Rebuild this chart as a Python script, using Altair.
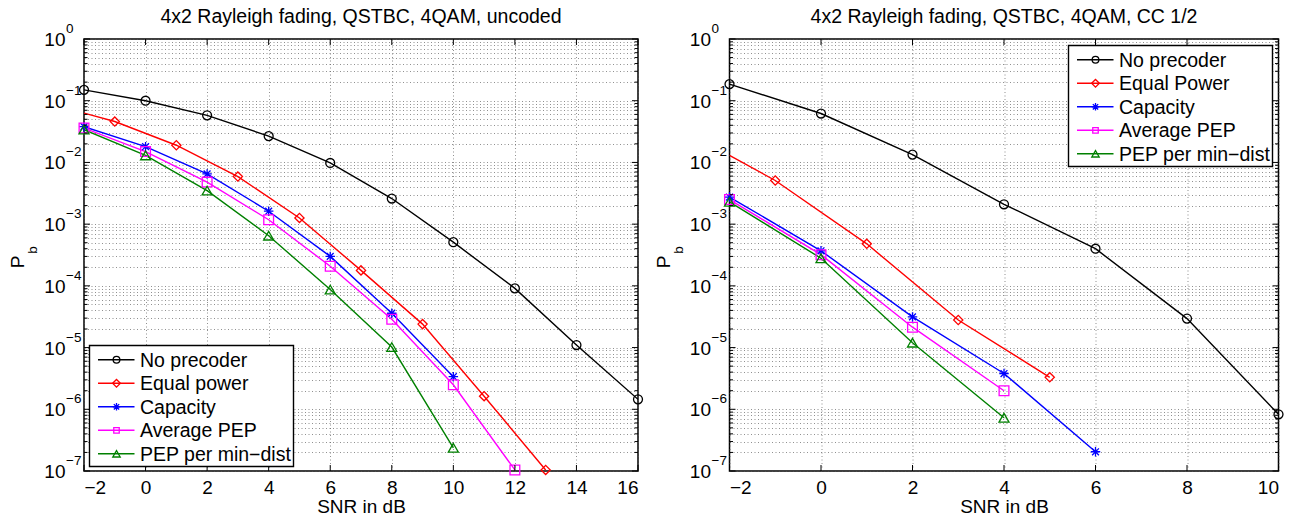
import altair as alt
import pandas as pd

FONT = "Liberation Sans"

# ---------------- uncoded panel ----------------
TITLE_L = "4x2 Rayleigh fading, QSTBC, 4QAM, uncoded"
NAMES_L = ["No precoder", "Equal power", "Capacity", "Average PEP", "PEP per min\u2212dist"]

L_NOPRE_SNR = [-2, 0, 2, 4, 6, 8, 10, 12, 14, 16]
L_NOPRE_PB = [0.15, 0.10, 0.058, 0.0267, 0.0098, 0.0026, 5.1e-4, 9.1e-5, 1.1e-5, 1.45e-6]

L_EQ_SNR = [-2, -1, 1, 3, 5, 7, 9, 11, 13]
L_EQ_PB = [0.063, 0.046, 0.019, 0.0059, 1.26e-3, 1.78e-4, 2.4e-5, 1.63e-6, 1.04e-7]
L_EQ_MARK = [False, True, True, True, True, True, True, True, True]

L_CAP_SNR = [-2, 0, 2, 4, 6, 8, 10]
L_CAP_PB = [0.038, 0.018, 0.0065, 1.62e-3, 3.0e-4, 3.6e-5, 3.37e-6]

L_AVG_SNR = [-2, 0, 2, 4, 6, 8, 10, 12]
L_AVG_PB = [0.036, 0.015, 0.0048, 1.18e-3, 2.08e-4, 2.88e-5, 2.5e-6, 1.04e-7]

L_MIN_SNR = [-2, 0, 2, 4, 6, 8, 10]
L_MIN_PB = [0.034, 0.013, 0.0035, 6.5e-4, 8.7e-5, 1.02e-5, 2.38e-7]

# ---------------- CC 1/2 panel ----------------
TITLE_R = "4x2 Rayleigh fading, QSTBC, 4QAM, CC 1/2"
NAMES_R = ["No precoder", "Equal Power", "Capacity", "Average PEP", "PEP per min\u2212dist"]

R_NOPRE_SNR = [-2, 0, 2, 4, 6, 8, 10]
R_NOPRE_PB = [0.186, 0.062, 0.0134, 0.0021, 4.0e-4, 2.95e-5, 8.3e-7]

R_EQ_SNR = [-2, -1, 1, 3, 5]
R_EQ_PB = [0.013, 0.0051, 4.8e-4, 2.8e-5, 3.3e-6]
R_EQ_MARK = [False, True, True, True, True]

R_CAP_SNR = [-2, 0, 2, 4, 6]
R_CAP_PB = [2.75e-3, 3.7e-4, 3.14e-5, 3.8e-6, 2.05e-7]

R_AVG_SNR = [-2, 0, 2, 4]
R_AVG_PB = [2.5e-3, 3.2e-4, 2.14e-5, 2.0e-6]

R_MIN_SNR = [-2, 0, 2, 4]
R_MIN_PB = [2.3e-3, 2.8e-4, 1.2e-5, 7.3e-7]

# ---------------- styling ----------------
COLORS = ["#000000", "#ff0000", "#0000ff", "#ff00ff", "#008000"]
ASTERISK = "M-1,0L1,0M0,-1L0,1M-0.72,-0.72L0.72,0.72M-0.72,0.72L0.72,-0.72"
SHAPES = ["circle", "diamond", ASTERISK, "square", "triangle-up"]
SIZES = [80, 100, 85, 45, 86]
LEG_SIZES = [45, 60, 55, 30, 55]

DECADES = [1e0, 1e-1, 1e-2, 1e-3, 1e-4, 1e-5, 1e-6, 1e-7]
EXPONENTS = ["0", "\u22121", "\u22122", "\u22123", "\u22124", "\u22125", "\u22126", "\u22127"]
MINOR = [m * 10.0 ** k for k in range(-7, 0) for m in range(2, 10)]
GRID_Y = DECADES + MINOR

HEIGHT = 432
FS = 19


def series_frame(names, series):
    rows = []
    for name, (snr, pb, marks) in zip(names, series):
        if marks is None:
            marks = [True] * len(snr)
        for s, p, m in zip(snr, pb, marks):
            rows.append({"series": name, "snr": s, "pb": p, "marked": m})
    return pd.DataFrame(rows)


def panel(title, names, series, xmax, width, legend_xy):
    xticks = list(range(-2, xmax + 1, 2))
    xscale = alt.Scale(domain=[-2, xmax], nice=False, zero=False)
    yscale = alt.Scale(type="log", domain=[1e-7, 1], nice=False)
    xaxis = alt.Axis(values=xticks, grid=True, ticks=False, tickSize=0, domain=False,
                     title="SNR in dB", labelFontSize=FS, titleFontSize=FS,
                     labelPadding=7, titlePadding=0, format="d")
    yaxis = alt.Axis(values=GRID_Y, grid=True, labels=False, ticks=False, tickSize=0,
                     domain=False, title=None)

    def X(field):
        return alt.X(f"{field}:Q", scale=xscale, axis=xaxis)

    def Y(field):
        return alt.Y(f"{field}:Q", scale=yscale, axis=yaxis)

    df = series_frame(names, series)
    color = alt.Color("series:N", scale=alt.Scale(domain=names, range=COLORS), legend=None)

    lines = alt.Chart(df).mark_line(strokeWidth=1.4, clip=True).encode(
        x=X("snr"), y=Y("pb"), color=color, detail="series:N")
    points = alt.Chart(df[df["marked"]]).mark_point(
        filled=False, strokeWidth=1.3, opacity=1).encode(
        x=X("snr"), y=Y("pb"), color=color,
        shape=alt.Shape("series:N", scale=alt.Scale(domain=names, range=SHAPES), legend=None),
        size=alt.Size("series:N", scale=alt.Scale(domain=names, range=SIZES), legend=None))

    # inward tick marks on all four sides of the box
    maj = pd.DataFrame({"v": DECADES})
    mnr = pd.DataFrame({"v": MINOR})
    xt = pd.DataFrame({"v": xticks})
    tick_layers = []
    for d, ln in ((maj, 6), (mnr, 3.5)):
        tick_layers.append(alt.Chart(d).mark_rule(color="black", strokeWidth=1).encode(
            y=Y("v"), x=alt.value(0), x2=alt.value(ln)))
        tick_layers.append(alt.Chart(d).mark_rule(color="black", strokeWidth=1).encode(
            y=Y("v"), x=alt.value(width - ln), x2=alt.value(width)))
    tick_layers.append(alt.Chart(xt).mark_rule(color="black", strokeWidth=1).encode(
        x=X("v"), y=alt.value(HEIGHT), y2=alt.value(HEIGHT - 6)))
    tick_layers.append(alt.Chart(xt).mark_rule(color="black", strokeWidth=1).encode(
        x=X("v"), y=alt.value(0), y2=alt.value(6)))

    # y tick labels as 10 with a raised exponent
    dec = pd.DataFrame({"v": DECADES, "base": ["10"] * len(DECADES), "exp": EXPONENTS})
    base_lbl = alt.Chart(dec).mark_text(align="right", baseline="middle", fontSize=FS,
                                        font=FONT, dy=1).encode(
        y=Y("v"), x=alt.value(-18.5), text="base:N")
    exp_lbl = alt.Chart(dec).mark_text(align="left", baseline="middle", fontSize=13.5,
                                       font=FONT, dy=-10).encode(
        y=Y("v"), x=alt.value(-18), text="exp:N")

    # y axis title P_b
    ptxt = alt.Chart(pd.DataFrame({"t": ["P"]})).mark_text(
        angle=270, align="center", baseline="middle", fontSize=FS, font=FONT).encode(
        x=alt.value(-66), y=alt.value(HEIGHT / 2 + 7), text="t:N")
    btxt = alt.Chart(pd.DataFrame({"t": ["b"]})).mark_text(
        angle=270, align="center", baseline="middle", fontSize=13.5, font=FONT).encode(
        x=alt.value(-51), y=alt.value(HEIGHT / 2 - 5), text="t:N")

    ttl = alt.Chart(pd.DataFrame({"t": [title]})).mark_text(
        align="center", baseline="middle", fontSize=19.5, font=FONT).encode(
        x=alt.value(width / 2), y=alt.value(-22), text="t:N")

    # legend box
    bx, by = legend_xy
    bw, bh = 204, 121
    leg = [alt.Chart(pd.DataFrame({"a": [0]})).mark_rect(
        fill="white", stroke="black", strokeWidth=1.4).encode(
        x=alt.value(bx), x2=alt.value(bx + bw), y=alt.value(by), y2=alt.value(by + bh))]
    for i, name in enumerate(names):
        ry = by + 14.3 + 23.5 * i
        one = pd.DataFrame({"t": [name]})
        leg.append(alt.Chart(one).mark_rule(color=COLORS[i], strokeWidth=1.4).encode(
            x=alt.value(bx + 8.5), x2=alt.value(bx + 45), y=alt.value(ry)))
        leg.append(alt.Chart(one).mark_point(
            shape=SHAPES[i], color=COLORS[i], filled=False, size=LEG_SIZES[i],
            strokeWidth=1.3, opacity=1).encode(x=alt.value(bx + 27), y=alt.value(ry)))
        leg.append(alt.Chart(one).mark_text(
            align="left", baseline="middle", fontSize=19.5, font=FONT).encode(
            x=alt.value(bx + 50.5), y=alt.value(ry + 1), text="t:N"))

    return alt.layer(lines, points, *tick_layers, base_lbl, exp_lbl, ptxt, btxt, ttl,
                     *leg).properties(width=width, height=HEIGHT)


left = panel(TITLE_L, NAMES_L, [
    (L_NOPRE_SNR, L_NOPRE_PB, None),
    (L_EQ_SNR, L_EQ_PB, L_EQ_MARK),
    (L_CAP_SNR, L_CAP_PB, None),
    (L_AVG_SNR, L_AVG_PB, None),
    (L_MIN_SNR, L_MIN_PB, None),
], 16, 554, (5.5, 306.5))

right = panel(TITLE_R, NAMES_R, [
    (R_NOPRE_SNR, R_NOPRE_PB, None),
    (R_EQ_SNR, R_EQ_PB, R_EQ_MARK),
    (R_CAP_SNR, R_CAP_PB, None),
    (R_AVG_SNR, R_AVG_PB, None),
    (R_MIN_SNR, R_MIN_PB, None),
], 10, 549, (339, 6.5))

chart = alt.hconcat(left, right, spacing=7.5).resolve_scale(
    color="independent", shape="independent", size="independent"
).properties(
    padding={"left": 8, "top": 6, "right": 5, "bottom": 5},
    background="white",
).configure_view(
    stroke="black", strokeWidth=1.5
).configure_axis(
    labelFont=FONT, titleFont=FONT, titleFontWeight="normal", labelColor="black",
    titleColor="black", gridColor="#555555", gridDash=[1, 2.5], gridWidth=1, gridOpacity=0.65
)

chart.save("out.html", embed_options={"renderer": "svg", "actions": False})
